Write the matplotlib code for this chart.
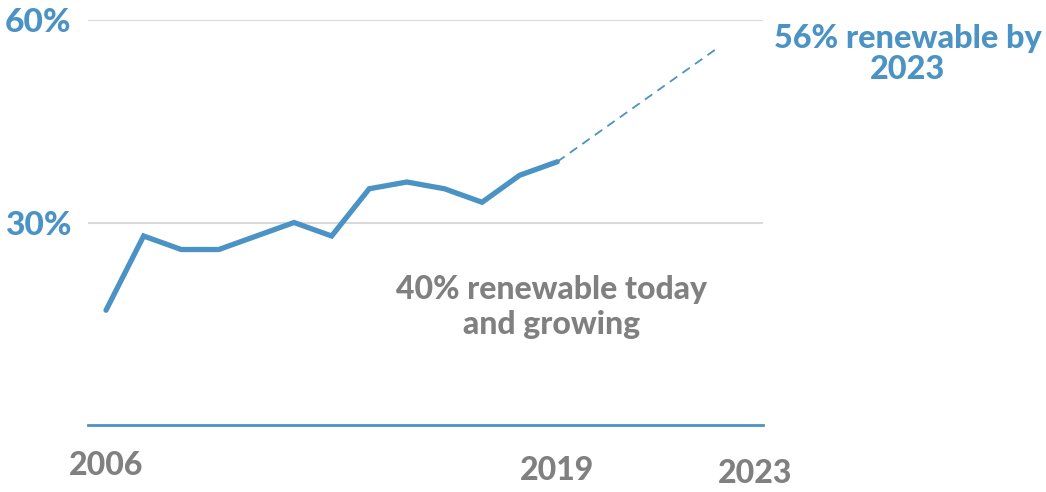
import matplotlib.pyplot as plt

# share of renewable generation, one point per reporting step
shares = [17, 28, 26, 26, 28, 30, 28, 35, 36, 35, 33, 37, 39]
target_share = 56
target_pos = 16.3          # where the 2023 target sits along the axis
year_labels = ["2006", "2019", "2023"]
y_ticks = [30, 60]
y_tick_labels = ["30%", "60%"]

BLUE = "#4a93c4"
GRAY = "#808080"
GRID = "#d9d9d9"
WEIGHT = 900

plt.rcParams["font.family"] = ["Lato", "DejaVu Sans"]
plt.rcParams["font.weight"] = WEIGHT

fig = plt.figure(figsize=(10.46, 4.92), dpi=100)
ax = fig.add_axes([0.0841, 0.1362, 0.6453, 0.8231])

xs = list(range(len(shares)))
ax.plot(xs, shares, color=BLUE, lw=3.8, solid_capstyle="round",
        solid_joinstyle="miter", zorder=3, clip_on=False)
ax.plot([xs[-1], target_pos], [shares[-1], target_share], color=BLUE,
        lw=1.3, ls=(0, (5, 3.5)), zorder=2, clip_on=False)

ax.set_xlim(-0.48, 17.47)
ax.set_ylim(0, 60)

ax.set_yticks(y_ticks)
ax.set_yticklabels(y_tick_labels, fontweight=WEIGHT)
ax.tick_params(axis="y", length=0, pad=12, labelsize=24, labelcolor=BLUE)
ax.set_xticks([])
ax.grid(axis="y", color=GRID, lw=1.5)
ax.set_axisbelow(True)

for side in ("left", "right", "top"):
    ax.spines[side].set_visible(False)
ax.spines["bottom"].set_color(BLUE)
ax.spines["bottom"].set_linewidth(2)

# year labels under the axis, each a little lower than the previous one
label_x = [xs[0], xs[-1], 17.25]
label_dy = [-29.5, -33, -35]
for x, txt, dy in zip(label_x, year_labels, label_dy):
    ax.annotate(txt, xy=(x, 0), xycoords=("data", "axes fraction"),
                xytext=(0, dy), textcoords="offset points",
                ha="center", va="center", fontsize=23, color=GRAY,
                fontweight=WEIGHT, annotation_clip=False)

fig.text(0.868, 0.890, f"{target_share}% renewable by\n2023", ha="center",
         va="center", fontsize=23.3, color=BLUE, fontweight=WEIGHT,
         linespacing=1.1)
fig.text(0.527, 0.376, "40% renewable today\nand growing", ha="center",
         va="center", fontsize=23, color=GRAY, fontweight=WEIGHT,
         linespacing=1.22)

fig.savefig("out.png", dpi=100)
